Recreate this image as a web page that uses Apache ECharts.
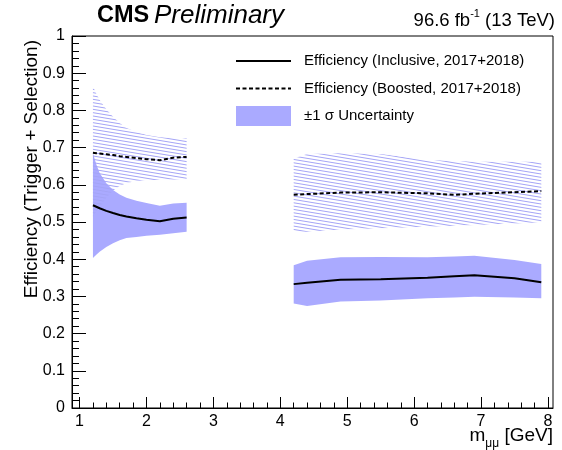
<!DOCTYPE html>
<html>
<head>
<meta charset="utf-8">
<script src="https://cdn.jsdelivr.net/npm/echarts@6/dist/echarts.min.js"></script>
<style>
  html, body { margin: 0; padding: 0; background: #fff; }
  #chart { width: 562px; height: 450px; }
</style>
</head>
<body>
<div id="chart"></div>
<script>
// Mass points of the two scanned windows (GeV)
const massLow  = [1.2, 1.25, 1.3, 1.4, 1.5, 1.6, 1.7, 1.85, 2.0, 2.2, 2.4, 2.6];
const massHigh = [4.2, 4.4, 4.9, 5.5, 6.2, 6.6, 6.9, 7.5, 7.9];

// Inclusive efficiency with its ±1σ band
const inclLow      = [0.545, 0.541, 0.537, 0.530, 0.524, 0.519, 0.515, 0.510, 0.506, 0.502, 0.509, 0.512];
const inclLowUp    = [0.685, 0.655, 0.632, 0.604, 0.586, 0.574, 0.565, 0.557, 0.551, 0.544, 0.550, 0.552];
const inclLowDn    = [0.403, 0.412, 0.420, 0.433, 0.443, 0.451, 0.457, 0.460, 0.463, 0.466, 0.470, 0.474];
const inclHigh     = [0.333, 0.337, 0.345, 0.346, 0.350, 0.354, 0.357, 0.349, 0.338];
const inclHighUp   = [0.384, 0.396, 0.405, 0.406, 0.405, 0.407, 0.409, 0.398, 0.387];
const inclHighDn   = [0.281, 0.274, 0.286, 0.289, 0.295, 0.297, 0.299, 0.297, 0.295];

// Boosted efficiency with its ±1σ band
const boostLow     = [0.686, 0.685, 0.684, 0.682, 0.680, 0.677, 0.675, 0.672, 0.669, 0.666, 0.673, 0.675];
const boostLowUp   = [0.864, 0.845, 0.828, 0.803, 0.783, 0.766, 0.753, 0.742, 0.734, 0.728, 0.726, 0.725];
const boostLowDn   = [0.514, 0.528, 0.540, 0.565, 0.585, 0.597, 0.605, 0.610, 0.613, 0.613, 0.614, 0.615];
const boostHigh    = [0.573, 0.575, 0.579, 0.580, 0.577, 0.573, 0.576, 0.580, 0.583];
const boostHighUp  = [0.671, 0.683, 0.685, 0.683, 0.667, 0.664, 0.662, 0.662, 0.662];
const boostHighDn  = [0.474, 0.474, 0.480, 0.483, 0.487, 0.490, 0.492, 0.496, 0.499];

// Axis ticks
const xMajorTicks = [1, 2, 3, 4, 5, 6, 7, 8];
const xMinorStep = 0.2;

const FONT = "'Liberation Sans', Arial, Helvetica, sans-serif";
const BAND = '#aaaaff';
const HATCH = '#a4a4f6';

const NAME_INCL  = 'Efficiency (Inclusive, 2017+2018)';
const NAME_BOOST = 'Efficiency (Boosted, 2017+2018)';
const NAME_BAND  = '±1 σ Uncertainty';

// Minor x ticks between the major ones
const xMinorTicks = [];
for (let v = 1; v <= 8.0001; v += xMinorStep) {
  const r = Math.round(v * 10) / 10;
  if (Math.abs(r - Math.round(r)) > 1e-6) xMinorTicks.push(r);
}

// Diagonal hatch pattern tile
function hatchPattern() {
  const c = document.createElement('canvas');
  const w = 20, h = 20, s = h / 6;
  c.width = w; c.height = h;
  const ctx = c.getContext('2d');
  ctx.strokeStyle = HATCH;
  ctx.lineWidth = 1;
  for (let k = -2; k <= 7; k++) {
    ctx.beginPath();
    ctx.moveTo(0, k * s + 0.5);
    ctx.lineTo(w, k * s + s + 0.5);
    ctx.stroke();
  }
  return { image: c, repeat: 'repeat' };
}
const hatch = hatchPattern();

function pairs(xs, ys) { return xs.map((x, i) => [x, ys[i]]); }

// Band polygon drawn through the axis scales
function bandSeries(name, bands, fill) {
  return {
    type: 'custom',
    name: name,
    xAxisIndex: 0, yAxisIndex: 0,
    silent: true,
    clip: true,
    data: bands.map((b, i) => [b.x[0], b.up[0], i]),
    renderItem: function (params, api) {
      const b = bands[params.dataIndex];
      const pts = [];
      for (let i = 0; i < b.x.length; i++) pts.push(api.coord([b.x[i], b.up[i]]));
      for (let i = b.x.length - 1; i >= 0; i--) pts.push(api.coord([b.x[i], b.dn[i]]));
      return { type: 'polygon', shape: { points: pts }, style: { fill: fill, stroke: null } };
    }
  };
}

function lineSeries(name, xs, ys, dashed) {
  return {
    type: 'line',
    name: name,
    xAxisIndex: 0, yAxisIndex: 0,
    symbol: 'none',
    silent: true,
    data: pairs(xs, ys),
    lineStyle: { color: '#000', width: 2, type: dashed ? [4, 2.5] : 'solid' },
    itemStyle: { color: '#000' },
    z: 5
  };
}

const chart = echarts.init(document.getElementById('chart'), null, { renderer: 'canvas' });

chart.setOption({
  animation: false,
  backgroundColor: '#fff',
  textStyle: { fontFamily: FONT },
  grid: {
    left: 72, right: 9, top: 36, bottom: 42,
    show: true, borderColor: '#000', borderWidth: 1, backgroundColor: 'transparent'
  },
  xAxis: [
    {
      type: 'value', min: 0.887, max: 8.075,
      axisLine: { show: true, lineStyle: { color: '#000', width: 1 } },
      axisTick: { show: true, inside: true, length: 11, customValues: xMajorTicks, lineStyle: { color: '#000' } },
      axisLabel: { show: true, customValues: xMajorTicks, color: '#000', fontSize: 16, margin: 6, fontFamily: FONT },
      splitLine: { show: false }
    },
    {
      type: 'value', min: 0.887, max: 8.075, position: 'bottom',
      axisLine: { show: false },
      axisTick: { show: true, inside: true, length: 5.5, customValues: xMinorTicks, lineStyle: { color: '#000' } },
      axisLabel: { show: false },
      splitLine: { show: false }
    }
  ],
  yAxis: {
    type: 'value', min: 0, max: 1, interval: 0.1,
    axisLine: { show: true, lineStyle: { color: '#000', width: 1 } },
    axisTick: { show: true, inside: true, length: 14, lineStyle: { color: '#000' } },
    minorTick: { show: true, splitNumber: 5, length: 7, lineStyle: { color: '#000' } },
    axisLabel: {
      color: '#000', fontSize: 16, margin: 7, fontFamily: FONT,
      formatter: v => (Math.abs(v) < 1e-9 ? '0' : Math.abs(v - 1) < 1e-9 ? '1' : v.toFixed(1))
    },
    splitLine: { show: false }
  },
  legend: {
    orient: 'vertical',
    left: 235, top: 51,
    padding: 0,
    itemWidth: 55, itemHeight: 20, itemGap: 7.5,
    selectedMode: false,
    textStyle: { fontSize: 15, lineHeight: 20, color: '#000', fontFamily: FONT, padding: [0, 0, 0, 8] },
    data: [
      { name: NAME_INCL, itemStyle: { opacity: 0 } },
      { name: NAME_BOOST, itemStyle: { opacity: 0 } },
      { name: NAME_BAND, icon: 'rect', itemStyle: { color: BAND } }
    ]
  },
  series: [
    bandSeries(NAME_BAND, [
      { x: massLow, up: inclLowUp, dn: inclLowDn },
      { x: massHigh, up: inclHighUp, dn: inclHighDn }
    ], BAND),
    bandSeries('boosted band', [
      { x: massLow, up: boostLowUp, dn: boostLowDn },
      { x: massHigh, up: boostHighUp, dn: boostHighDn }
    ], hatch),
    lineSeries(NAME_INCL, massLow, inclLow, false),
    lineSeries(NAME_INCL, massHigh, inclHigh, false),
    lineSeries(NAME_BOOST, massLow, boostLow, true),
    lineSeries(NAME_BOOST, massHigh, boostHigh, true)
  ],
  graphic: [
    {
      type: 'text', x: 97, y: 16,
      style: { text: 'CMS', font: "bold 23.5px " + FONT, fill: '#000', textVerticalAlign: 'middle' }
    },
    {
      type: 'text', x: 154, y: 16,
      style: { text: 'Preliminary', font: "italic 26px " + FONT, fill: '#000', textVerticalAlign: 'middle' }
    },
    {
      type: 'text', x: 555, y: 19,
      style: {
        text: '{n|96.6 fb}{s|-1}{n| (13 TeV)}',
        textAlign: 'right', textVerticalAlign: 'middle',
        rich: {
          n: { fontSize: 18.5, fontFamily: FONT, fill: '#000', lineHeight: 22, verticalAlign: 'bottom' },
          s: { fontSize: 11, fontFamily: FONT, fill: '#000', lineHeight: 12, verticalAlign: 'top' }
        }
      }
    },
    {
      type: 'text', x: 553, y: 438,
      style: {
        text: '{n|m}{s|μμ}{n| [GeV]}',
        textAlign: 'right', textVerticalAlign: 'middle',
        rich: {
          n: { fontSize: 19, fontFamily: FONT, fill: '#000', lineHeight: 24, verticalAlign: 'top' },
          s: { fontSize: 12, fontFamily: FONT, fill: '#000', lineHeight: 14, verticalAlign: 'bottom' }
        }
      }
    },
    {
      type: 'text', x: 32, y: 40, rotation: Math.PI / 2,
      style: {
        text: 'Efficiency (Trigger + Selection)',
        font: "19px " + FONT, fill: '#000',
        textAlign: 'right', textVerticalAlign: 'middle'
      }
    }
  ]
});
</script>
</body>
</html>
